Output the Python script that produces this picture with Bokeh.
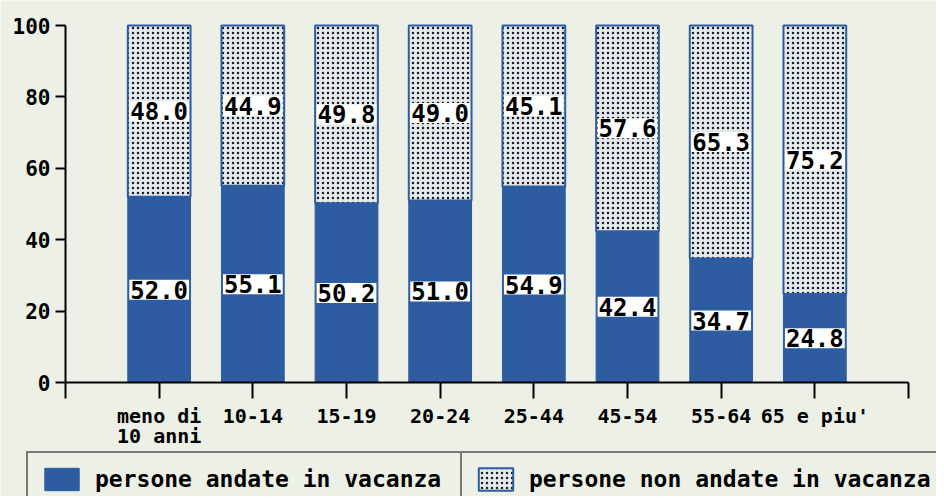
from bokeh.plotting import figure
from bokeh.models import ColumnDataSource, Range1d, FixedTicker, Legend, LegendItem
from bokeh.core.properties import value
from bokeh.embed import file_html
from bokeh.resources import INLINE

categories = ["meno di\n10 anni", "10-14", "15-19", "20-24", "25-44", "45-54", "55-64", "65 e piu'"]
andate = [52.0, 55.1, 50.2, 51.0, 54.9, 42.4, 34.7, 24.8]
non_andate = [48.0, 44.9, 49.8, 49.0, 45.1, 57.6, 65.3, 75.2]
y_ticks = [0, 20, 40, 60, 80, 100]
series_labels = ["persone andate in vacanza", "persone non andate in vacanza"]

BLUE = "#2d5ca0"
PAPER = "#edf0e6"
FONT_NAME = "DejaVu Sans Mono"
FONT = value(FONT_NAME)

W, H = 936, 496
# pixel layout of the plotting area inside the canvas
AX_L, AX_R, AX_T, AX_B = 65, 908, 25, 382

n_cat = len(categories)
x_lo, x_hi = 0, n_cat + 1
y_lo, y_hi = 0, 100
sx = (AX_R - AX_L) / (x_hi - x_lo)
sy = (AX_B - AX_T) / (y_hi - y_lo)

xs = [i + 1 for i in range(n_cat)]
src = ColumnDataSource(dict(
    x=xs,
    a=andate,
    n=non_andate,
    tot=[a + n for a, n in zip(andate, non_andate)],
    ya=[a / 2 for a in andate],
    yn=[a + n / 2 for a, n in zip(andate, non_andate)],
    ta=["%.1f" % a for a in andate],
    tn=["%.1f" % n for n in non_andate],
))

p = figure(width=W, height=H, output_backend="svg", toolbar_location=None,
           x_range=Range1d(x_lo - AX_L / sx, x_hi + (W - AX_R) / sx),
           y_range=Range1d(y_lo - (H - AX_B) / sy, y_hi + AX_T / sy),
           min_border_left=0, min_border_right=0, min_border_top=0, min_border_bottom=0)
p.background_fill_color = PAPER
p.border_fill_color = PAPER
p.outline_line_color = None
p.grid.visible = False

r_a = p.vbar(x="x", top="a", bottom=0, width=0.67, source=src,
             fill_color=BLUE, line_color=BLUE, line_width=1)
r_n = p.vbar(x="x", top="tot", bottom="a", width=0.67, source=src,
             fill_color="#e6eae8", line_color=BLUE, line_width=2,
             hatch_pattern="dot", hatch_color="#141c38", hatch_scale=5, hatch_weight=1.8)

for ycol, tcol in (("ya", "ta"), ("yn", "tn")):
    p.text(x="x", y=ycol, text=tcol, source=src, text_font=FONT, text_font_style="bold",
           text_font_size="24px", text_align="center", text_baseline="middle",
           text_color="black", background_fill_color="white", padding=1)

# axes fixed at the origin
p.xaxis.fixed_location = 0
p.yaxis.fixed_location = 0
p.xaxis.bounds = (x_lo, x_hi)
p.yaxis.bounds = (y_lo, y_hi)
p.xaxis.ticker = FixedTicker(ticks=list(range(x_lo, x_hi + 1)))
ov = {x_lo: "", x_hi: ""}
for xv, c in zip(xs, categories):
    ov[xv] = c
p.xaxis.major_label_overrides = ov
p.yaxis.ticker = FixedTicker(ticks=y_ticks)
p.yaxis.major_label_overrides = {t: str(t) for t in y_ticks}

for ax in (p.xaxis, p.yaxis):
    ax.axis_line_color = "black"
    ax.axis_line_width = 2
    ax.major_tick_line_color = "black"
    ax.major_tick_line_width = 2
    ax.minor_tick_line_color = None
    ax.major_tick_in = 0
    ax.major_label_text_font = FONT_NAME
    ax.major_label_text_font_style = "bold"
    ax.major_label_text_color = "black"
p.xaxis.major_tick_out = 16
p.xaxis.major_label_text_font_size = "20px"
p.xaxis.major_label_text_line_height = 0.85
p.xaxis.major_label_standoff = 5
p.yaxis.major_tick_out = 10
p.yaxis.major_label_text_font_size = "21px"
p.yaxis.major_label_standoff = 5

def make_legend(label, renderer, vx, lw):
    return Legend(items=[LegendItem(label=label, renderers=[renderer])],
                  location=(vx, -11), orientation="horizontal",
                  padding=12, margin=0, spacing=0,
                  glyph_width=43, glyph_height=28, label_height=28,
                  label_width=lw, label_standoff=12,
                  label_text_font=FONT_NAME, label_text_font_style="bold",
                  label_text_font_size="23px", label_text_color="black",
                  label_text_baseline="middle",
                  border_line_color="black", border_line_width=2,
                  background_fill_color=PAPER, background_fill_alpha=1.0)

p.add_layout(make_legend(series_labels[0], r_a, 26, 355), "center")
p.add_layout(make_legend(series_labels[1], r_n, 460, 420), "center")

open("out.html", "w").write(file_html(p, INLINE))
